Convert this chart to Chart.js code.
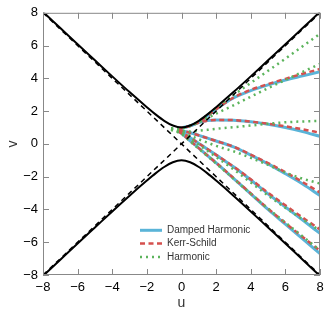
<!DOCTYPE html>
<html>
<head>
<meta charset="utf-8">
<script src="https://cdn.jsdelivr.net/npm/chart.js@4.4.1/dist/chart.umd.min.js"></script>
<style>
  body { margin: 0; background: #fff; }
  canvas { display: block; }
</style>
</head>
<body>
<canvas id="trajChart" width="330" height="316"></canvas>
<script>
// black reference curves
const uHyperbola = [-8, -7, -6, -5, -4, -3, -2, -1.5, -1, -0.5, 0, 0.5, 1, 1.5, 2, 3, 4, 5, 6, 7, 8];
const vUpperBranch = [8.06, 7.07, 6.08, 5.1, 4.12, 3.16, 2.24, 1.8, 1.41, 1.12, 1, 1.12, 1.41, 1.8, 2.24, 3.16, 4.12, 5.1, 6.08, 7.07, 8.06];
const vLowerBranch = [-8.06, -7.07, -6.08, -5.1, -4.12, -3.16, -2.24, -1.8, -1.41, -1.12, -1, -1.12, -1.41, -1.8, -2.24, -3.16, -4.12, -5.1, -6.08, -7.07, -8.06];
const uDiagonal = [-8, 8];
const vRising = [-8, 8];
const vFalling = [8, -8];

// trajectories
const uTrajectory = [-0.2, 0, 0.5, 1, 1.5, 2, 3, 4, 5, 6, 7, 8];
const dampedHarmonic = [
  [0.95, 0.98, 1.1, 1.35, 1.72, 2.12, 2.8, 3.25, 3.6, 3.9, 4.15, 4.4],
  [0.9, 0.95, 1.1, 1.3, 1.42, 1.46, 1.45, 1.35, 1.2, 1.0, 0.75, 0.46],
  [0.85, 0.8, 0.68, 0.52, 0.35, 0.18, -0.18, -0.68, -1.22, -1.82, -2.45, -3.15],
  [0.82, 0.72, 0.38, 0.03, -0.32, -0.68, -1.4, -2.2, -3.05, -3.85, -4.65, -5.46],
  [0.78, 0.64, 0.19, -0.26, -0.71, -1.16, -2.1, -3.05, -4.0, -4.9, -5.8, -6.7],
];
const kerrSchild = [
  [0.95, 0.98, 1.1, 1.35, 1.72, 2.12, 2.82, 3.3, 3.65, 3.97, 4.28, 4.57],
  [0.9, 0.95, 1.1, 1.3, 1.42, 1.46, 1.45, 1.36, 1.23, 1.07, 0.89, 0.68],
  [0.85, 0.8, 0.68, 0.52, 0.35, 0.18, -0.17, -0.65, -1.17, -1.73, -2.33, -2.97],
  [0.82, 0.72, 0.38, 0.03, -0.32, -0.67, -1.38, -2.16, -2.98, -3.75, -4.5, -5.22],
  [0.78, 0.64, 0.19, -0.26, -0.71, -1.15, -2.08, -3.02, -3.95, -4.83, -5.68, -6.52],
];
const uHarmonic = [-0.6, 0, 0.5, 1, 1.5, 2, 3, 4, 5, 6, 7, 8];
const harmonic = [
  [0.95, 0.98, 1.1, 1.38, 1.78, 2.2, 2.98, 3.72, 4.46, 5.2, 5.96, 6.72],
  [0.95, 0.95, 1.1, 1.32, 1.58, 1.85, 2.35, 2.88, 3.4, 3.9, 4.4, 4.88],
  [0.95, 0.8, 0.75, 0.8, 0.86, 0.92, 1.02, 1.12, 1.23, 1.32, 1.37, 1.4],
  [0.9, 0.7, 0.5, 0.28, 0.08, -0.12, -0.45, -0.85, -1.28, -1.75, -2.12, -2.42],
  [0.9, 0.65, 0.3, -0.05, -0.42, -0.8, -1.55, -2.35, -3.15, -3.9, -4.6, -5.3],
  [0.85, 0.6, 0.15, -0.3, -0.75, -1.2, -2.12, -3.05, -3.95, -4.8, -5.65, -6.5],
];

const tickValues = [-8, -6, -4, -2, 0, 2, 4, 6, 8];
const seriesNames = ["Damped Harmonic", "Kerr-Schild", "Harmonic"];

const blue = "#5ab4d8";
const red = "#d5504e";
const green = "#5cb45c";

const styles = {
  hyper: { borderColor: "#000", borderWidth: 2, borderDash: [] },
  diag: { borderColor: "#000", borderWidth: 1.5, borderDash: [5, 4] },
  damped: { borderColor: blue, borderWidth: 3, borderDash: [] },
  kerr: { borderColor: red, borderWidth: 2.5, borderDash: [5, 3.5] },
  harm: { borderColor: green, borderWidth: 2.5, borderDash: [2, 4] },
};

function makeLine(us, vs, style, label) {
  return {
    label: label || "",
    data: us.map((u, i) => ({ x: u, y: vs[i] })),
    ...style,
    pointRadius: 0,
    fill: false,
    cubicInterpolationMode: "monotone",
  };
}

// first dataset is drawn on top
const datasets = [
  makeLine(uHyperbola, vUpperBranch, styles.hyper),
  makeLine(uHyperbola, vLowerBranch, styles.hyper),
  makeLine(uDiagonal, vRising, styles.diag),
  makeLine(uDiagonal, vFalling, styles.diag),
];
harmonic.forEach((vs) => datasets.push(makeLine(uHarmonic, vs, styles.harm, seriesNames[2])));
kerrSchild.forEach((vs) => datasets.push(makeLine(uTrajectory, vs, styles.kerr, seriesNames[1])));
dampedHarmonic.forEach((vs) => datasets.push(makeLine(uTrajectory, vs, styles.damped, seriesNames[0])));

const legendRows = [
  { label: seriesNames[0], style: styles.damped },
  { label: seriesNames[1], style: styles.kerr },
  { label: seriesNames[2], style: styles.harm },
];

const frameAndLegend = {
  id: "frameAndLegend",
  afterDatasetsDraw(chart) {
    const { ctx, chartArea: a, scales } = chart;
    ctx.save();
    ctx.strokeStyle = "#888";
    ctx.lineWidth = 1;
    ctx.setLineDash([]);
    ctx.strokeRect(a.left + 0.5, a.top + 0.5, a.right - a.left - 1, a.bottom - a.top - 1);
    ctx.beginPath();
    tickValues.forEach((t) => {
      const px = Math.round(scales.x.getPixelForValue(t)) + 0.5;
      ctx.moveTo(px, a.bottom);
      ctx.lineTo(px, a.bottom - 6);
      ctx.moveTo(px, a.top);
      ctx.lineTo(px, a.top + 6);
      const py = Math.round(scales.y.getPixelForValue(t)) + 0.5;
      ctx.moveTo(a.left, py);
      ctx.lineTo(a.left + 6, py);
      ctx.moveTo(a.right, py);
      ctx.lineTo(a.right - 6, py);
    });
    ctx.stroke();

    // legend inside the plot
    ctx.font = "10px 'Liberation Sans', Arial, sans-serif";
    ctx.textBaseline = "middle";
    ctx.fillStyle = "#333";
    legendRows.forEach((row, i) => {
      const y = a.top + 217.5 + i * 13.3;
      ctx.beginPath();
      ctx.strokeStyle = row.style.borderColor;
      ctx.lineWidth = row.style.borderWidth;
      ctx.setLineDash(row.style.borderDash);
      ctx.moveTo(a.left + 97, y);
      ctx.lineTo(a.left + 119, y);
      ctx.stroke();
      ctx.fillText(row.label, a.left + 124, y);
    });
    ctx.restore();
  },
};

const fmtTick = (v) => (v < 0 ? "\u2212" + Math.abs(v) : String(v));

Chart.defaults.font.family = "'Liberation Sans', Arial, sans-serif";
Chart.defaults.color = "#000";

new Chart(document.getElementById("trajChart"), {
  type: "line",
  data: { datasets },
  options: {
    responsive: false,
    animation: false,
    layout: { padding: { top: 12, right: 10, left: 0, bottom: 0 } },
    plugins: {
      legend: { display: false },
      tooltip: { enabled: false },
    },
    scales: {
      x: {
        type: "linear",
        min: -8,
        max: 8,
        afterBuildTicks: (s) => { s.ticks = tickValues.map((v) => ({ value: v })); },
        afterFit: (s) => { s.height = 41; },
        grid: { display: false, drawTicks: false },
        border: { display: false },
        ticks: { font: { size: 13 }, padding: 5, maxRotation: 0, autoSkip: false, callback: fmtTick },
        title: { display: true, text: "u", font: { size: 14 }, color: "#333", padding: { top: 0, bottom: 4 } },
      },
      y: {
        type: "linear",
        min: -8,
        max: 8,
        afterBuildTicks: (s) => { s.ticks = tickValues.map((v) => ({ value: v })); },
        afterFit: (s) => { s.width = 43; },
        grid: { display: false, drawTicks: false },
        border: { display: false },
        ticks: { font: { size: 13 }, padding: 5, autoSkip: false, callback: fmtTick },
        title: { display: true, text: "v", font: { size: 14 }, color: "#333", padding: { top: 5, bottom: 0 } },
      },
    },
  },
  plugins: [frameAndLegend],
});
</script>
</body>
</html>
